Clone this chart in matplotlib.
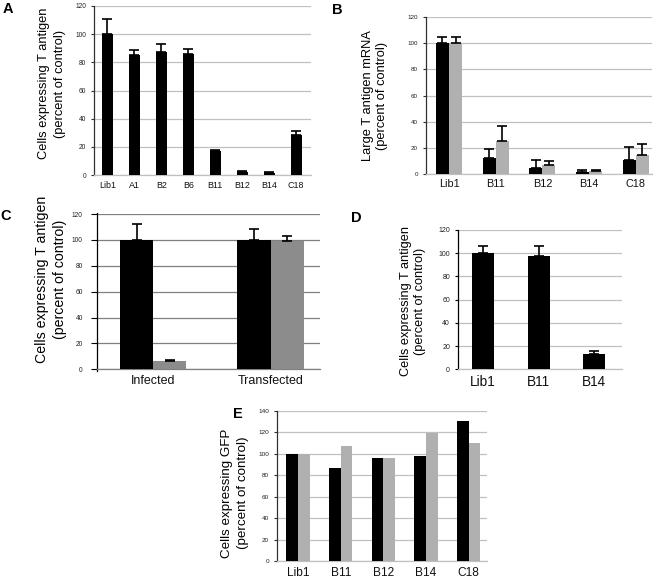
import matplotlib
matplotlib.use("Agg")
import matplotlib.pyplot as plt
import numpy as np

plt.rcParams['font.family'] = ['Liberation Sans', 'DejaVu Sans']

# Panel A
a_cats = ["Lib1", "A1", "B2", "B6", "B11", "B12", "B14", "C18"]
a_vals = [100, 85, 87, 86, 17, 2, 1.5, 28.5]
a_errs = [10.5, 4, 6, 3.5, 0.8, 0.6, 0.5, 2.5]
a_yticks = [0, 20, 40, 60, 80, 100, 120]

# Panel B
b_cats = ["Lib1", "B11", "B12", "B14", "C18"]
b_black = [100, 11.8, 4.4, 1.5, 10.3]
b_black_err = [5, 7.2, 6.3, 1.5, 10]
b_gray = [100, 24.9, 6.4, 1.8, 14.2]
b_gray_err = [5, 12, 3.2, 1.3, 8.6]
b_yticks = [0, 20, 40, 60, 80, 100, 120]

# Panel C
c_cats = ["Infected", "Transfected"]
c_black = [100, 100]
c_black_err = [12, 8.7]
c_gray = [6.5, 99]
c_gray_err = [1, 4.3]
c_yticks = [0, 20, 40, 60, 80, 100, 120]

# Panel D
d_cats = ["Lib1", "B11", "B14"]
d_vals = [100, 98, 13.5]
d_errs = [6, 8.5, 2.5]
d_yticks = [0, 20, 40, 60, 80, 100, 120]

# Panel E
e_cats = ["Lib1", "B11", "B12", "B14", "C18"]
e_black = [100, 87, 96, 97.5, 130.5]
e_gray = [100, 107.5, 96, 119.5, 110]
e_yticks = [0, 20, 40, 60, 80, 100, 120, 140]

W, H = 656, 580
fig = plt.figure(figsize=(W / 100, H / 100), dpi=100)


def px_axes(l, r, t, b):
    return fig.add_axes([l / W, 1 - b / H, (r - l) / W, (b - t) / H])


def style(ax, yticks, ytick_fs, xtick_fs, grid_color, spine_color='#303030',
          tick_len=2.5, ypad=3):
    ax.set_yticks(yticks)
    ax.set_ylim(yticks[0], yticks[-1])
    ax.yaxis.grid(True, color=grid_color, linewidth=0.9)
    ax.set_axisbelow(True)
    for s in ['top', 'right']:
        ax.spines[s].set_visible(False)
    ax.spines['bottom'].set_color(grid_color)
    ax.spines['bottom'].set_linewidth(0.9)
    ax.spines['left'].set_color(spine_color)
    ax.spines['left'].set_linewidth(0.9)
    ax.tick_params(axis='y', labelsize=ytick_fs, length=tick_len, width=0.8,
                   color=spine_color, pad=ypad, labelcolor='#222222')
    ax.tick_params(axis='x', labelsize=xtick_fs, length=0, pad=4, labelcolor='#111111')


ekw = dict(elinewidth=1.2, capthick=1.2, ecolor='black', capsize=3.3)

# ---- Panel A
ax = px_axes(94, 311, 6, 175)
x = np.arange(len(a_cats))
ax.bar(x, a_vals, width=0.41, color='black', zorder=3)
ax.errorbar(x, a_vals, yerr=[np.zeros(len(a_vals)), a_errs], fmt='none', zorder=4, **ekw)
ax.set_xticks(x)
ax.set_xticklabels(a_cats)
ax.set_xlim(-0.5, 7.55)
style(ax, a_yticks, 4.8, 6.4, '#c0c0c0')
fig.text(52 / W, 1 - 83.5 / H, "Cells expressing T antigen\n(percent of control)",
         rotation=90, ha='center', va='center', fontsize=9.3, multialignment='center',
         linespacing=1.4)
fig.text(7.5 / W, 1 - 9 / H, "A", fontsize=10.5, fontweight='bold', ha='center', va='center')

# ---- Panel B
ax = px_axes(425.7, 652, 17.3, 173.7)
x = np.arange(len(b_cats))
bw = 0.28
ax.bar(x - bw / 2, b_black, width=bw, color='black', zorder=3)
ax.bar(x + bw / 2, b_gray, width=bw, color='#b0b0b0', zorder=3)
ax.errorbar(x - bw / 2, b_black, yerr=[np.zeros(len(b_black)), b_black_err], fmt='none', zorder=4, **ekw)
ax.errorbar(x + bw / 2, b_gray, yerr=[np.zeros(len(b_gray)), b_gray_err], fmt='none', zorder=4, **ekw)
ax.set_xticks(x)
ax.set_xticklabels(b_cats)
ax.set_xlim(-0.5, 4.35)
style(ax, b_yticks, 4.5, 7.8, '#c0c0c0')
fig.text(375 / W, 1 - 95.5 / H, "Large T antigen mRNA\n(percent of control)",
         rotation=90, ha='center', va='center', fontsize=9.3, multialignment='center',
         linespacing=1.27)
fig.text(337.5 / W, 1 - 10 / H, "B", fontsize=10.5, fontweight='bold', ha='center', va='center')

# ---- Panel C
ax = px_axes(96.7, 320, 214, 369.3)
x = np.arange(len(c_cats))
bw = 0.282
ax.bar(x - bw / 2, c_black, width=bw, color='black', zorder=3)
ax.bar(x + bw / 2, c_gray, width=bw, color='#8c8c8c', zorder=3)
ax.errorbar(x - bw / 2, c_black, yerr=[np.zeros(2), c_black_err], fmt='none', zorder=4, **ekw)
ax.errorbar(x + bw / 2, c_gray, yerr=[np.zeros(2), c_gray_err], fmt='none', zorder=4, **ekw)
ax.set_xticks(x)
ax.set_xticklabels(c_cats)
ax.set_xlim(-0.48, 1.42)
style(ax, c_yticks, 4.8, 9.0, '#808080', spine_color='black', tick_len=4, ypad=6)
ax.spines['left'].set_bounds(-1.6, 121)
fig.text(51 / W, 1 - 279.5 / H, "Cells expressing T antigen\n(percent of control)",
         rotation=90, ha='center', va='center', fontsize=10.2, multialignment='center',
         linespacing=1.29)
fig.text(6 / W, 1 - 216 / H, "C", fontsize=10.5, fontweight='bold', ha='center', va='center')

# ---- Panel D
ax = px_axes(457.7, 621.7, 230, 369.3)
x = np.arange(len(d_cats))
ax.bar(x, d_vals, width=0.4, color='black', zorder=3)
ax.errorbar(x, d_vals, yerr=[np.zeros(len(d_vals)), d_errs], fmt='none', zorder=4, **ekw)
ax.set_xticks(x)
ax.set_xticklabels(d_cats)
ax.set_xlim(-0.46, 2.5)
style(ax, d_yticks, 5.0, 9.8, '#c0c0c0', spine_color='black')
fig.text(413 / W, 1 - 301 / H, "Cells expressing T antigen\n(percent of control)",
         rotation=90, ha='center', va='center', fontsize=9.2, multialignment='center',
         linespacing=1.18)
fig.text(356 / W, 1 - 218 / H, "D", fontsize=10.5, fontweight='bold', ha='center', va='center')

# ---- Panel E
ax = px_axes(276.7, 486.7, 410.7, 561)
x = np.arange(len(e_cats))
bw = 0.273
ax.bar(x - bw / 2, e_black, width=bw, color='black', zorder=3)
ax.bar(x + bw / 2, e_gray, width=bw, color='#b0b0b0', zorder=3)
ax.set_xticks(x)
ax.set_xticklabels(e_cats)
ax.set_xlim(-0.5, 4.42)
style(ax, e_yticks, 4.6, 8.6, '#c0c0c0')
fig.text(235 / W, 1 - 493 / H, "Cells expressing GFP\n(percent of control)",
         rotation=90, ha='center', va='center', fontsize=9.6, multialignment='center',
         linespacing=1.5)
fig.text(237.5 / W, 1 - 414.5 / H, "E", fontsize=10.5, fontweight='bold', ha='center', va='center')

fig.savefig("out.png", dpi=100)
